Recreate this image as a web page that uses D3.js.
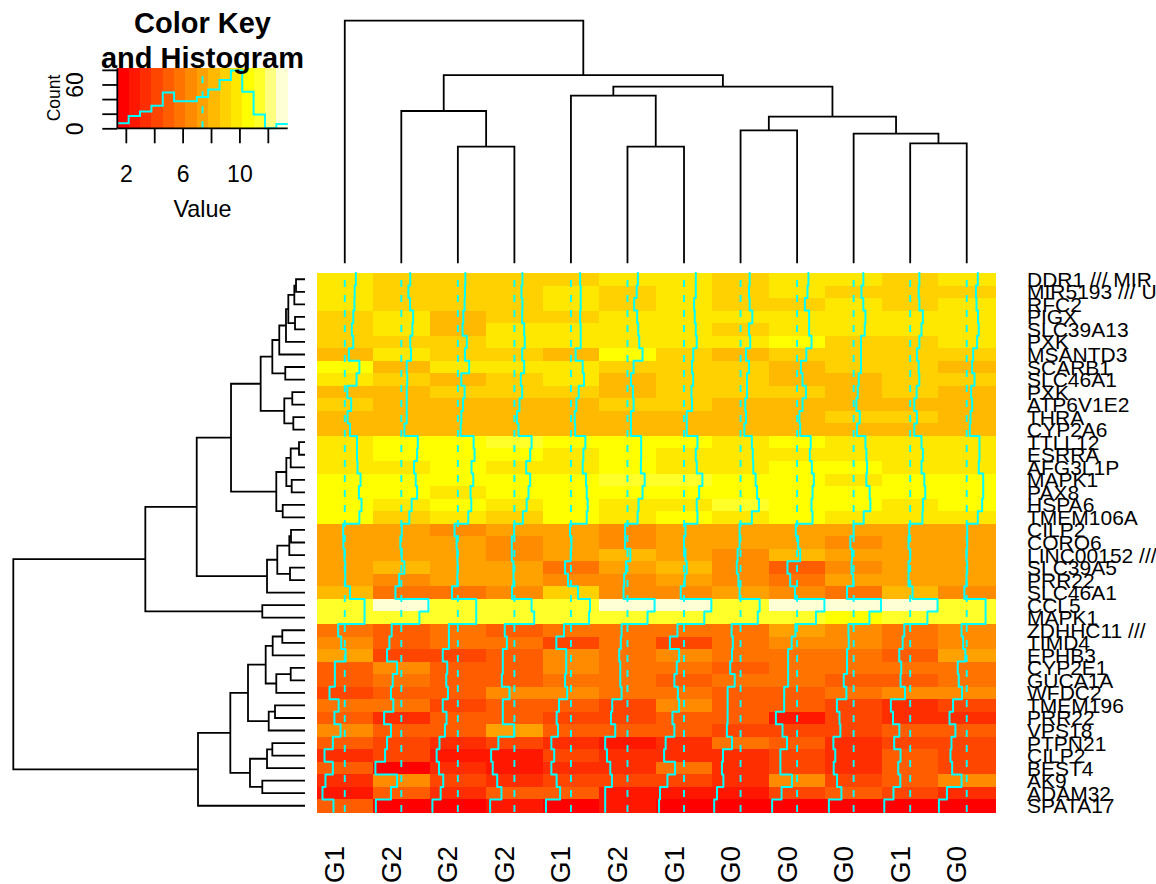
<!DOCTYPE html>
<html>
<head>
<meta charset="utf-8">
<style>
html,body{margin:0;padding:0;background:#fff;overflow:hidden}
svg{display:block;font-family:"Liberation Sans",Arial,sans-serif}
</style>
<script src="https://cdn.jsdelivr.net/npm/d3@7/dist/d3.min.js"></script>
</head>
<body>
<svg id="c" width="1156" height="884"></svg>
<script>
const geneLabels = ["DDR1 /// MIR","MIR5193 /// U","RFC2","PIGX","SLC39A13","PXK","MSANTD3","SCARB1","SLC46A1","PXK","ATP6V1E2","THRA","CYP2A6","TTLL12","ESRRA","AFG3L1P","MAPK1","PAX8","HSPA6","TMEM106A","CILP2","CORO6","LINC00152 ///","SLC39A5","PRR22","SLC46A1","CCL5","MAPK1","ZDHHC11 ///","TIMD4","EPHB3","CYP2E1","GUCA1A","WFDC2","TMEM196","PRR22","VPS18","PTPN21","CILP2","BEST4","AK9","ADAM32","SPATA17"];
const sampleLabels = ["G1","G2","G2","G2","G1","G2","G1","G0","G0","G0","G1","G0"];

const col1 = [9.75,9.5,9.45,9.2,8.9,9.2,8.27,10.5,9.9,7.95,8.76,8.0,8.5,10.0,10.0,10.1,10.75,10.4,10.95,10.5,7.06,7.1,7.35,7.5,7.5,8.5,11.6,11.6,6.0,6.64,7.56,5.3,5.3,4.16,6.1,5.2,6.5,4.87,3.1,4.87,3.3,2.67,5.0];
const col2 = [9.3,8.9,9.25,9.9,9.75,9.3,9.45,8.55,8.65,8.55,8.55,8.55,8.05,10.9,10.75,10.1,10.46,10.75,9.6,9.1,7.5,7.2,7.5,8.05,6.95,6.15,13.15,11.24,5.35,4.87,4.37,6.5,5.58,5.2,5.7,3.75,5.2,4.37,3.95,1.9,6.5,5.2,2.0];
const col3 = [8.98,8.9,8.83,8.55,8.4,9.3,8.9,9.8,8.13,8.83,8.48,8.13,8.0,10.75,10.95,10.3,10.67,10.1,10.25,9.6,6.7,7.13,7.28,7.35,7.28,6.15,11.3,11.3,5.5,5.5,4.2,5.15,4.94,5.3,4.2,5.0,4.66,3.5,2.9,3.4,4.3,3.75,2.0];
const col4 = [9.1,8.9,9.1,9.05,9.47,9.6,9.05,9.47,8.76,9.05,8.48,7.95,8.27,11.05,10.75,9.9,10.75,10.4,10.0,9.2,7.35,6.85,6.85,7.2,7.2,6.9,11.05,11.6,5.35,5.8,4.94,4.94,4.73,6.36,4.94,4.94,7.35,4.0,2.46,2.8,3.75,4.65,2.25];
const col5 = [9.35,9.47,9.47,9.35,9.47,9.47,8.4,9.9,10.18,9.05,8.55,8.2,8.3,10.46,10.04,9.9,10.6,10.75,10.95,10.75,7.2,7.5,7.35,6.15,6.78,8.9,11.45,11.25,5.93,4.3,6.4,6.4,6.15,6.6,4.87,4.37,4.65,3.24,3.85,3.24,4.37,5.1,2.1];
const col6 = [9.6,9.35,8.83,9.45,9.68,9.9,10.6,8.7,8.13,8.55,8.7,8.13,8.13,10.3,10.3,10.25,11.05,10.6,9.75,9.55,6.9,6.9,8.0,7.1,6.7,6.57,13.15,11.65,6.15,5.99,5.65,5.87,5.87,6.15,4.16,3.9,4.8,2.67,3.05,3.75,4.1,2.67,2.67];
const col7 = [9.9,9.9,9.54,9.68,9.9,10.1,9.35,9.1,9.33,8.98,9.1,7.98,7.98,10.25,9.9,10.1,11.3,10.6,10.1,10.25,7.7,7.4,7.7,7.98,7.56,6.7,13.2,11.7,6.0,4.4,6.36,5.86,5.35,6.1,6.36,4.94,5.35,3.5,3.17,5.5,3.88,2.3,2.1];
const col8 = [9.33,9.2,9.33,9.9,9.2,9.45,8.55,9.2,8.76,8.76,8.4,8.55,8.2,9.8,10,10.1,10.6,10.9,11.3,9.8,7.2,7.2,6.78,6.6,6.95,7.2,11.45,11.05,5.5,5.76,5.58,5.2,6.15,4.66,4.66,4.65,4.5,5.58,3.67,3.45,3.75,2.4,1.8];
const col9 = [9.8,9.6,9.05,9.95,9.95,10.46,9.35,8.2,8.55,9.26,8.55,7.9,8.05,10.3,10.1,10.53,10.95,10.67,10.46,10.67,7.13,7.63,8.05,5.35,5.93,6.95,13.2,11.4,7.05,6.25,5.5,5.5,5.5,4.66,4.65,2.9,4.3,5.25,3.85,3.85,6.3,4.1,2.1];
const col10 = [9.45,9.05,9.45,9.9,9.75,8.95,8.95,8.95,8.48,8.27,7.98,8.7,8.1,9.9,10.1,10.25,10.1,10.8,10.95,9.54,7.4,6.7,7.07,6.95,7.3,6.0,13.2,10.75,6.3,6.36,6,6,5.3,5.86,3.85,4.4,4.58,3.1,3.5,3.17,3.88,4.8,2.15];
const col11 = [9.35,9.2,9.35,10.1,9.8,9.35,8.83,9.2,9.33,8.76,8.27,8.83,8.27,9.8,10.1,9.8,10.4,10.6,10.1,10,7.2,7.05,7.4,7.05,7.05,7.9,13.2,11.05,6.15,5.8,5.08,5.5,5.35,6.3,3.3,3.75,5.1,4.0,5.35,4.87,5.3,3.85,1.9];
const col12 = [9.75,9.35,9.47,9.8,9.95,9.6,8.76,8.55,9.05,8.34,8.55,8.2,8.05,10.1,10.1,9.95,10.9,10.9,10.67,9.75,7.5,7.5,7.35,7.5,7.35,6.9,11.4,11.4,6.3,6.64,7.1,5.5,5.7,6.4,4.5,3.75,5.0,4.16,3.95,4.3,6.3,3.2,1.5];
const matrixColumns = [col1,col2,col3,col4,col5,col6,col7,col8,col9,col10,col11,col12];

const heatColors = ["#FF0000","#FF1700","#FF2E00","#FF4600","#FF5D00","#FF7400","#FF8B00","#FFA200","#FFB900","#FFD100","#FFE800","#FFFF00","#FFFF2A","#FFFF80","#FFFFD5"];
const valueMin = 1.4, valueMax = 13.4, valueCenter = 7.4;
const histCounts = [7,17,23,31,49,37,37,43,53,66,79,50,19,0,6];
const keyValueTicks = [2,4,6,8,10,12];
const keyValueLabels = [2,6,10];
const keyCountTicks = [0,20,40,60,80];
const keyCountLabels = [0,60];

// dendrograms: [height, left, right]; plain numbers are leaves
const colTree = [50,0,[38.8,[31.39,1,[24.03,2,3]],[36.4,[34.54,4,[24.03,5,6]],[30.21,[27.41,7,8],[26.71,9,[24.73,10,11]]]]]];
const rowTreeUpper = [7.6,[5.6,[4.41,[3.26,[2.86,[1.83,[1.54,0,1],2],[1.71,3,4]],5],6],[3.38,7,8]],[3.55,[2.18,9,10],[2.0,11,12]]];
const rowTreeMiddle = [4.92,[3.2,[2.45,[1.03,13,14],15],[2.28,16,17]],[3.82,18,19]];
const rowTreeThird = [6.51,[4.75,[2.69,[2.4,20,21],22],[2.57,23,24]],25];
const rowTreeLower = [18.34,[12.8,[9.77,[6.74,[5.54,[3.89,28,29],30],[4.92,[2.45,31,32],33]],[6.22,[5.14,34,35],36]],[9.43,[6.51,[5.6,37,38],39],[7.32,40,41]]],42];
const rowTree = [50,[27.37,[18.56,[12.68,rowTreeUpper,rowTreeMiddle],rowTreeThird],[7.32,26,27]],rowTreeLower];

const svg = d3.select("#c");
const black = "#000", cyan = "#00FFFF", lw = 1.8;

const xBand = d3.scaleBand().domain(d3.range(12)).range([316.5,995]);
const yBand = d3.scaleBand().domain(d3.range(43)).range([273,812]);
const cellScale = d3.scaleLinear().domain([valueMin,valueMax]).range([0,xBand.bandwidth()]);
const colorScale = d3.scaleQuantize().domain([valueMin,valueMax]).range(heatColors);

// heat cells
const heat = svg.append("g").attr("shape-rendering","crispEdges");
matrixColumns.forEach((vals,c)=>{
  heat.selectAll(null).data(vals).join("rect")
    .attr("x",xBand(c)).attr("y",(d,i)=>yBand(i))
    .attr("width",xBand.bandwidth()+0.5).attr("height",yBand.bandwidth()+0.5)
    .attr("fill",d=>colorScale(d));
});

// dashed centre lines + traces
const line = d3.line();
matrixColumns.forEach((vals,c)=>{
  const cx = xBand(c)+cellScale(valueCenter);
  svg.append("path").attr("d",line([[cx,yBand.range()[1]],[cx,yBand.range()[0]]]))
    .attr("stroke",cyan).attr("stroke-width",1.9).attr("stroke-dasharray","7 8").attr("fill","none");
  const pts = [];
  vals.forEach((v,i)=>{
    const x = xBand(c)+cellScale(v);
    pts.push([x,yBand(i)],[x,yBand(i)+yBand.bandwidth()]);
  });
  svg.append("path").attr("d",line(pts)).attr("stroke",cyan).attr("stroke-width",2)
    .attr("fill","none").attr("stroke-linecap","round").attr("stroke-linejoin","round");
});

// dendrograms
function treeSegments(node,leafPos,hPos,segs){
  if(typeof node==="number") return {p:leafPos(node),h:hPos(0)};
  const a=treeSegments(node[1],leafPos,hPos,segs), b=treeSegments(node[2],leafPos,hPos,segs);
  const h=hPos(node[0]);
  segs.push([[a.p,a.h],[a.p,h],[b.p,h],[b.p,b.h]]);
  return {p:(a.p+b.p)/2,h:h};
}
const colH = d3.scaleLinear().domain([0,50]).range([263.3,20.7]);
const colSegs=[]; treeSegments(colTree,i=>xBand(i)+xBand.bandwidth()/2,colH,colSegs);
svg.append("g").selectAll("path").data(colSegs).join("path")
  .attr("d",s=>line(s)).attr("fill","none").attr("stroke",black).attr("stroke-width",lw);
const rowH = d3.scaleLinear().domain([0,50]).range([305,13.3]);
const rowSegs=[]; treeSegments(rowTree,i=>yBand(i)+yBand.bandwidth()/2,rowH,rowSegs);
svg.append("g").selectAll("path").data(rowSegs).join("path")
  .attr("d",s=>line(s.map(p=>[p[1],p[0]]))).attr("fill","none").attr("stroke",black).attr("stroke-width",lw);

// labels
svg.append("g").selectAll("text").data(geneLabels).join("text")
  .attr("x",1027).attr("y",(d,i)=>yBand(i)+yBand.bandwidth()/2+7.5)
  .attr("font-size",21).attr("fill",black).text(d=>d);
svg.append("g").selectAll("text").data(sampleLabels).join("text")
  .attr("text-anchor","end")
  .attr("transform",(d,i)=>`translate(${xBand(i)+xBand.bandwidth()/2-0.5},846) rotate(-90)`)
  .attr("font-size",28).attr("fill",black).text(d=>d);

// colour key
const keyX = d3.scaleLinear().domain([valueMin,valueMax]).range([117.3,287.7]);
const keyY = d3.scaleLinear().domain([0,82]).range([128.3,68.4]);
const step = (valueMax-valueMin)/heatColors.length;
svg.append("g").attr("shape-rendering","crispEdges").selectAll("rect").data(heatColors).join("rect")
  .attr("x",(d,i)=>keyX(valueMin+i*step)).attr("y",keyY.range()[1])
  .attr("width",keyX(valueMin+step)-keyX(valueMin)+0.5).attr("height",keyY.range()[0]-keyY.range()[1])
  .attr("fill",d=>d);
svg.append("path").attr("d",line([[keyX(valueCenter),keyY(0)],[keyX(valueCenter),keyY(82)]]))
  .attr("stroke",cyan).attr("stroke-width",1.9).attr("stroke-dasharray","7 8").attr("fill","none");
const histPts=[];
histCounts.forEach((c,i)=>{histPts.push([keyX(valueMin+i*step),keyY(c)],[keyX(valueMin+(i+1)*step),keyY(c)]);});
svg.append("path").attr("d",line(histPts)).attr("stroke",cyan).attr("stroke-width",2).attr("fill","none");

const xAxis = d3.axisBottom(keyX).tickValues(keyValueTicks).tickSize(15).tickPadding(0)
  .tickFormat(v=>keyValueLabels.includes(v)?v:"");
const xg = svg.append("g").attr("transform",`translate(0,${keyY(0)})`).call(xAxis);
xg.select(".domain").attr("d",line([[keyX.range()[0],0],[keyX.range()[1],0]])).attr("stroke",black).attr("stroke-width",lw);
xg.selectAll(".tick line").attr("stroke",black).attr("stroke-width",lw);
xg.selectAll(".tick text").attr("y",53.5).attr("dy",0).attr("font-size",23).attr("font-family","Liberation Sans").attr("fill",black);

const yAxis = d3.axisLeft(keyY).tickValues(keyCountTicks).tickSize(15)
  .tickFormat(v=>keyCountLabels.includes(v)?v:"");
const yg = svg.append("g").attr("transform",`translate(${keyX.range()[0]},0)`).call(yAxis);
yg.select(".domain").attr("d",line([[0,keyY(0)],[0,keyY(82)]])).attr("stroke",black).attr("stroke-width",lw);
yg.selectAll(".tick line").attr("stroke",black).attr("stroke-width",lw);
yg.selectAll(".tick text").attr("dy",null)
  .attr("transform","translate(-34,0) rotate(-90)").attr("text-anchor","middle")
  .attr("x",0).attr("y",0).attr("font-size",23).attr("font-family","Liberation Sans").attr("fill",black);

svg.append("text").attr("x",202.5).attr("y",217).attr("text-anchor","middle").attr("font-size",23.4).text("Value");
svg.append("text").attr("transform","translate(60,98) rotate(-90)").attr("text-anchor","middle").attr("font-size",17.5).text("Count");
svg.append("text").attr("x",202.5).attr("y",33).attr("text-anchor","middle").attr("font-size",29).attr("font-weight","bold").text("Color Key");
svg.append("text").attr("x",202.5).attr("y",68).attr("text-anchor","middle").attr("font-size",29).attr("font-weight","bold").text("and Histogram");
</script>
</body>
</html>
